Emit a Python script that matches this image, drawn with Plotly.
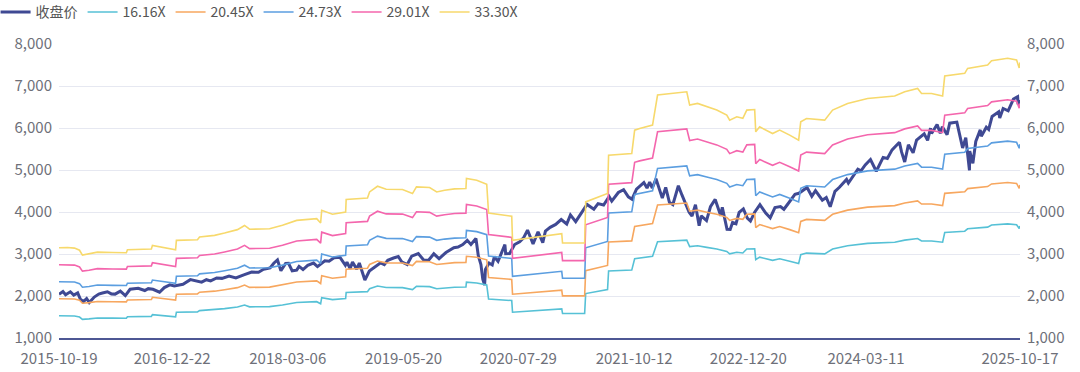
import plotly.graph_objects as go

# ---- x-axis tick labels (dates) ----
x_tick_labels = ["2015-10-19", "2016-12-22", "2018-03-06", "2019-05-20", "2020-07-29",
                 "2021-10-12", "2022-12-20", "2024-03-11", "2025-10-17"]
y_tick_values = [1000, 2000, 3000, 4000, 5000, 6000, 7000, 8000]

# ---- close price (收盘价) ----
price_dates = [
    "2015-10-19", "2015-11-03", "2015-11-13", "2015-12-01", "2015-12-14", "2015-12-29",
    "2016-01-08", "2016-01-20", "2016-02-01", "2016-02-11", "2016-03-01", "2016-03-18",
    "2016-04-01", "2016-04-20", "2016-05-05", "2016-05-19", "2016-06-08", "2016-06-27",
    "2016-07-15", "2016-08-01", "2016-08-15", "2016-09-09", "2016-09-22", "2016-10-10",
    "2016-11-04", "2016-11-22", "2016-12-13", "2016-12-30", "2017-01-17", "2017-02-01",
    "2017-03-01", "2017-03-27", "2017-04-13", "2017-05-01", "2017-05-17", "2017-06-09",
    "2017-06-29", "2017-07-26", "2017-08-10", "2017-08-21", "2017-09-20", "2017-10-20",
    "2017-11-15", "2017-12-04", "2017-12-29", "2018-01-12", "2018-01-26", "2018-02-08",
    "2018-02-26", "2018-03-09", "2018-03-23", "2018-04-09", "2018-04-18", "2018-05-03",
    "2018-05-21", "2018-06-12", "2018-06-27", "2018-07-25", "2018-08-10", "2018-08-29",
    "2018-09-20", "2018-10-11", "2018-10-17", "2018-10-29", "2018-11-07", "2018-11-23",
    "2018-12-03", "2018-12-24", "2019-01-10", "2019-01-31", "2019-02-22", "2019-03-08",
    "2019-03-21", "2019-04-12", "2019-04-30", "2019-05-13", "2019-06-03", "2019-06-20",
    "2019-07-15", "2019-08-05", "2019-08-23", "2019-09-12", "2019-10-02", "2019-10-28",
    "2019-11-27", "2019-12-13", "2019-12-31", "2020-01-17", "2020-01-31", "2020-02-19",
    "2020-02-28", "2020-03-09", "2020-03-16", "2020-03-23", "2020-03-26", "2020-04-09",
    "2020-04-21", "2020-04-29", "2020-05-13", "2020-06-08", "2020-06-11", "2020-06-26",
    "2020-07-15", "2020-08-03", "2020-08-18", "2020-09-02", "2020-09-23", "2020-10-12",
    "2020-10-30", "2020-11-09", "2020-11-27", "2020-12-18", "2021-01-08", "2021-01-29",
    "2021-02-12", "2021-03-04", "2021-03-26", "2021-04-16", "2021-05-12", "2021-05-28",
    "2021-06-18", "2021-07-09", "2021-07-19", "2021-08-13", "2021-09-02", "2021-09-20",
    "2021-10-04", "2021-10-21", "2021-11-18", "2021-11-30", "2021-12-10", "2021-12-20",
    "2022-01-03", "2022-01-27", "2022-02-09", "2022-02-23", "2022-03-08", "2022-03-29",
    "2022-04-12", "2022-04-29", "2022-05-09", "2022-05-20", "2022-06-02", "2022-06-16",
    "2022-06-24", "2022-07-14", "2022-07-29", "2022-08-16", "2022-09-06", "2022-09-12",
    "2022-09-30", "2022-10-12", "2022-10-21", "2022-11-03", "2022-11-15", "2022-12-01",
    "2022-12-16", "2022-12-28", "2023-01-13", "2023-02-02", "2023-02-24", "2023-03-13",
    "2023-03-31", "2023-04-21", "2023-05-04", "2023-05-19", "2023-06-15", "2023-06-30",
    "2023-07-31", "2023-08-18", "2023-09-01", "2023-09-27", "2023-10-12", "2023-10-27",
    "2023-11-14", "2023-12-01", "2023-12-28", "2024-01-04", "2024-01-24", "2024-02-09",
    "2024-02-21", "2024-03-08", "2024-03-28", "2024-04-19", "2024-05-15", "2024-05-31",
    "2024-06-18", "2024-07-16", "2024-07-24", "2024-08-05", "2024-08-19", "2024-09-06",
    "2024-09-19", "2024-10-18", "2024-10-31", "2024-11-11", "2024-11-15", "2024-12-06",
    "2024-12-18", "2024-12-26", "2025-01-13", "2025-01-23", "2025-02-19", "2025-03-04",
    "2025-03-13", "2025-03-25", "2025-04-04", "2025-04-08", "2025-04-09", "2025-04-21",
    "2025-05-02", "2025-05-19", "2025-05-23", "2025-06-11", "2025-06-20", "2025-07-03",
    "2025-07-28", "2025-08-01", "2025-08-14", "2025-09-02", "2025-09-22", "2025-10-08",
    "2025-10-10", "2025-10-17",
]
price_values = [
    2040, 2105, 2030, 2100, 2020, 2075,
    1925, 1865, 1940, 1845, 1975, 2045,
    2070, 2100, 2050, 2045, 2115, 2010,
    2160, 2170, 2185, 2130, 2175, 2160,
    2090, 2200, 2265, 2240, 2268, 2280,
    2390, 2345, 2330, 2388, 2360, 2430,
    2420, 2475, 2440, 2430, 2505, 2570,
    2565, 2635, 2670, 2780, 2860, 2600,
    2775, 2780, 2600, 2615, 2705, 2630,
    2730, 2785, 2700, 2840, 2830, 2910,
    2925, 2730, 2805, 2650, 2810, 2640,
    2785, 2380, 2595, 2700, 2790, 2745,
    2850, 2905, 2940, 2815, 2750, 2950,
    3010, 2850, 2850, 3005, 2890, 3035,
    3150, 3165, 3225, 3325, 3225, 3370,
    2960, 2750, 2400, 2260, 2630, 2785,
    2740, 2935, 2825, 3225, 3005, 3010,
    3225, 3290, 3385, 3570, 3240, 3530,
    3270, 3545, 3635, 3705, 3820, 3715,
    3930, 3770, 3970, 4180, 4065, 4200,
    4165, 4365, 4260, 4465, 4530, 4360,
    4305, 4545, 4700, 4570, 4710, 4570,
    4790, 4330, 4585, 4230, 4175, 4625,
    4400, 4135, 3995, 3905, 4175, 3675,
    3910, 3795, 4125, 4300, 3910, 4110,
    3590, 3585, 3750, 3720, 3990, 4075,
    3855, 3785, 3995, 4175, 3975, 3860,
    4105, 4130, 4065, 4190, 4420, 4445,
    4585, 4375, 4510, 4280, 4345, 4125,
    4490, 4590, 4775, 4690, 4865, 5020,
    4980, 5120, 5250, 4970, 5300, 5275,
    5480, 5660, 5430, 5190, 5600, 5410,
    5710, 5860, 5705, 5995, 5870, 6085,
    5875, 6030, 5840, 6115, 6140, 5780,
    5525, 5770, 5080, 4990, 5450, 5160,
    5680, 5955, 5805, 6020, 5965, 6275,
    6385, 6240, 6465, 6410, 6690, 6745,
    6560, 6665,
]

# ---- PE band lines: the 33.30X band; the others share its shape ----
band_dates = [
    "2015-10-19", "2015-11-20", "2015-12-17", "2016-01-05", "2016-01-16", "2016-02-10",
    "2016-03-13", "2016-05-10", "2016-07-01", "2016-07-05", "2016-10-04", "2016-10-08",
    "2016-12-04", "2017-01-04", "2017-01-07", "2017-03-28", "2017-04-05", "2017-06-01",
    "2017-07-09", "2017-08-27", "2017-09-23", "2017-10-12", "2017-12-27", "2018-02-14",
    "2018-04-09", "2018-06-24", "2018-07-09", "2018-07-13", "2018-08-23", "2018-10-12",
    "2018-10-14", "2019-01-03", "2019-01-11", "2019-02-10", "2019-03-15", "2019-05-16",
    "2019-06-23", "2019-07-08", "2019-08-27", "2019-09-23", "2019-10-23", "2019-11-30",
    "2020-01-12", "2020-01-14", "2020-02-22", "2020-03-31", "2020-04-07", "2020-07-04",
    "2020-07-07", "2020-10-18", "2021-01-10", "2021-01-13", "2021-04-07", "2021-04-11",
    "2021-05-26", "2021-07-03", "2021-07-07", "2021-10-03", "2021-10-14", "2021-11-02",
    "2021-12-21", "2022-01-09", "2022-04-30", "2022-05-11", "2022-06-10", "2022-07-15",
    "2022-08-22", "2022-09-29", "2022-10-10", "2022-11-06", "2022-11-29", "2022-12-14",
    "2023-01-13", "2023-01-17", "2023-02-01", "2023-03-22", "2023-04-18", "2023-05-26",
    "2023-06-29", "2023-07-07", "2023-07-29", "2023-10-06", "2023-11-05", "2024-01-01",
    "2024-03-17", "2024-06-28", "2024-08-05", "2024-09-23", "2024-10-08", "2024-11-15",
    "2024-12-27", "2025-01-04", "2025-03-21", "2025-04-01", "2025-06-16", "2025-07-01",
    "2025-08-31", "2025-10-04", "2025-10-14", "2025-10-17",
]
band_top_values = [
    3150, 3155, 3140, 3090, 2975, 3000,
    3045, 3035, 3030, 3103, 3120, 3205,
    3135, 3100, 3325, 3340, 3404, 3444,
    3500, 3580, 3680, 3590, 3600, 3683,
    3800, 3843, 3740, 4040, 3946, 4000,
    4296, 4335, 4478, 4613, 4540, 4534,
    4439, 4598, 4582, 4478, 4518, 4550,
    4560, 4797, 4757, 4661, 3976, 3898,
    3325, 3420, 3485, 3262, 3262, 4240,
    4358, 4440, 5353, 5393, 5949, 5989,
    6068, 6784, 6862, 6545, 6585, 6506,
    6426, 6306, 6187, 6267, 6230, 6426,
    6440, 5908, 6027, 5869, 5949, 5830,
    5710, 6147, 6227, 6187, 6426, 6585,
    6704, 6760, 6863, 6943, 6823, 6823,
    6760, 7237, 7301, 7420, 7500, 7602,
    7659, 7620, 7430, 7560,
]
band_multiples = [16.16, 20.45, 24.73, 29.01, 33.30]
band_names = ["16.16X", "20.45X", "24.73X", "29.01X", "33.30X"]
band_colors = ["#56c1d6", "#f7a75f", "#5b9ee0", "#f466ad", "#f7d96c"]

price_name = "收盘价"
price_color = "#3f4993"

FONT = "Noto Sans CJK SC, Noto Sans, sans-serif"

fig = go.Figure()
fig.add_trace(go.Scatter(
    x=price_dates, y=price_values, name=price_name, mode="lines",
    line=dict(color=price_color, width=3),
))
top_mult = band_multiples[-1]
for name, mult, color in zip(band_names, band_multiples, band_colors):
    fig.add_trace(go.Scatter(
        x=band_dates, y=[v * mult / top_mult for v in band_top_values],
        name=name, mode="lines", line=dict(color=color, width=1.6),
    ))
# invisible trace to anchor the right-hand axis
fig.add_trace(go.Scatter(
    x=[price_dates[0]], y=[price_values[0]], yaxis="y2", mode="markers",
    marker=dict(opacity=0), showlegend=False, hoverinfo="skip",
))

fig.update_layout(
    width=1080, height=372, autosize=False,
    margin=dict(l=59, r=60, t=44, b=34, pad=0, autoexpand=False),
    paper_bgcolor="white", plot_bgcolor="white",
    font=dict(family=FONT, color="#6e7079", size=15),
    showlegend=True,
    legend=dict(
        orientation="h", xref="paper", yref="paper", x=-0.066, y=1.162,
        xanchor="left", yanchor="top", font=dict(size=14, color="#555"),
        itemwidth=30, tracegroupgap=0, bgcolor="rgba(0,0,0,0)",
    ),
    xaxis=dict(
        type="date", range=["2015-10-19", "2025-10-17"], automargin=False,
        tickvals=x_tick_labels, ticktext=x_tick_labels,
        showgrid=False, zeroline=False, ticks="", ticklabelstandoff=6,
        showline=True, linecolor="#4d5794", linewidth=2,
        tickfont=dict(size=15, color="#6e7079"),
    ),
    yaxis=dict(
        range=[1000, 8000], tickvals=y_tick_values, tickformat=",d", automargin=False,
        showgrid=True, gridcolor="#e6e8f1", gridwidth=1, zeroline=False,
        ticks="", ticklabelstandoff=6, tickfont=dict(size=15, color="#6e7079"),
    ),
    yaxis2=dict(
        range=[1000, 8000], tickvals=y_tick_values, tickformat=",d", automargin=False,
        overlaying="y", side="right", showgrid=False, zeroline=False,
        ticks="", ticklabelstandoff=6, tickfont=dict(size=15, color="#6e7079"),
    ),
)

fig.write_html(
    "out.html",
    config={"displayModeBar": False},
    post_script="document.body.style.margin='0px';document.body.style.overflow='hidden';",
)
